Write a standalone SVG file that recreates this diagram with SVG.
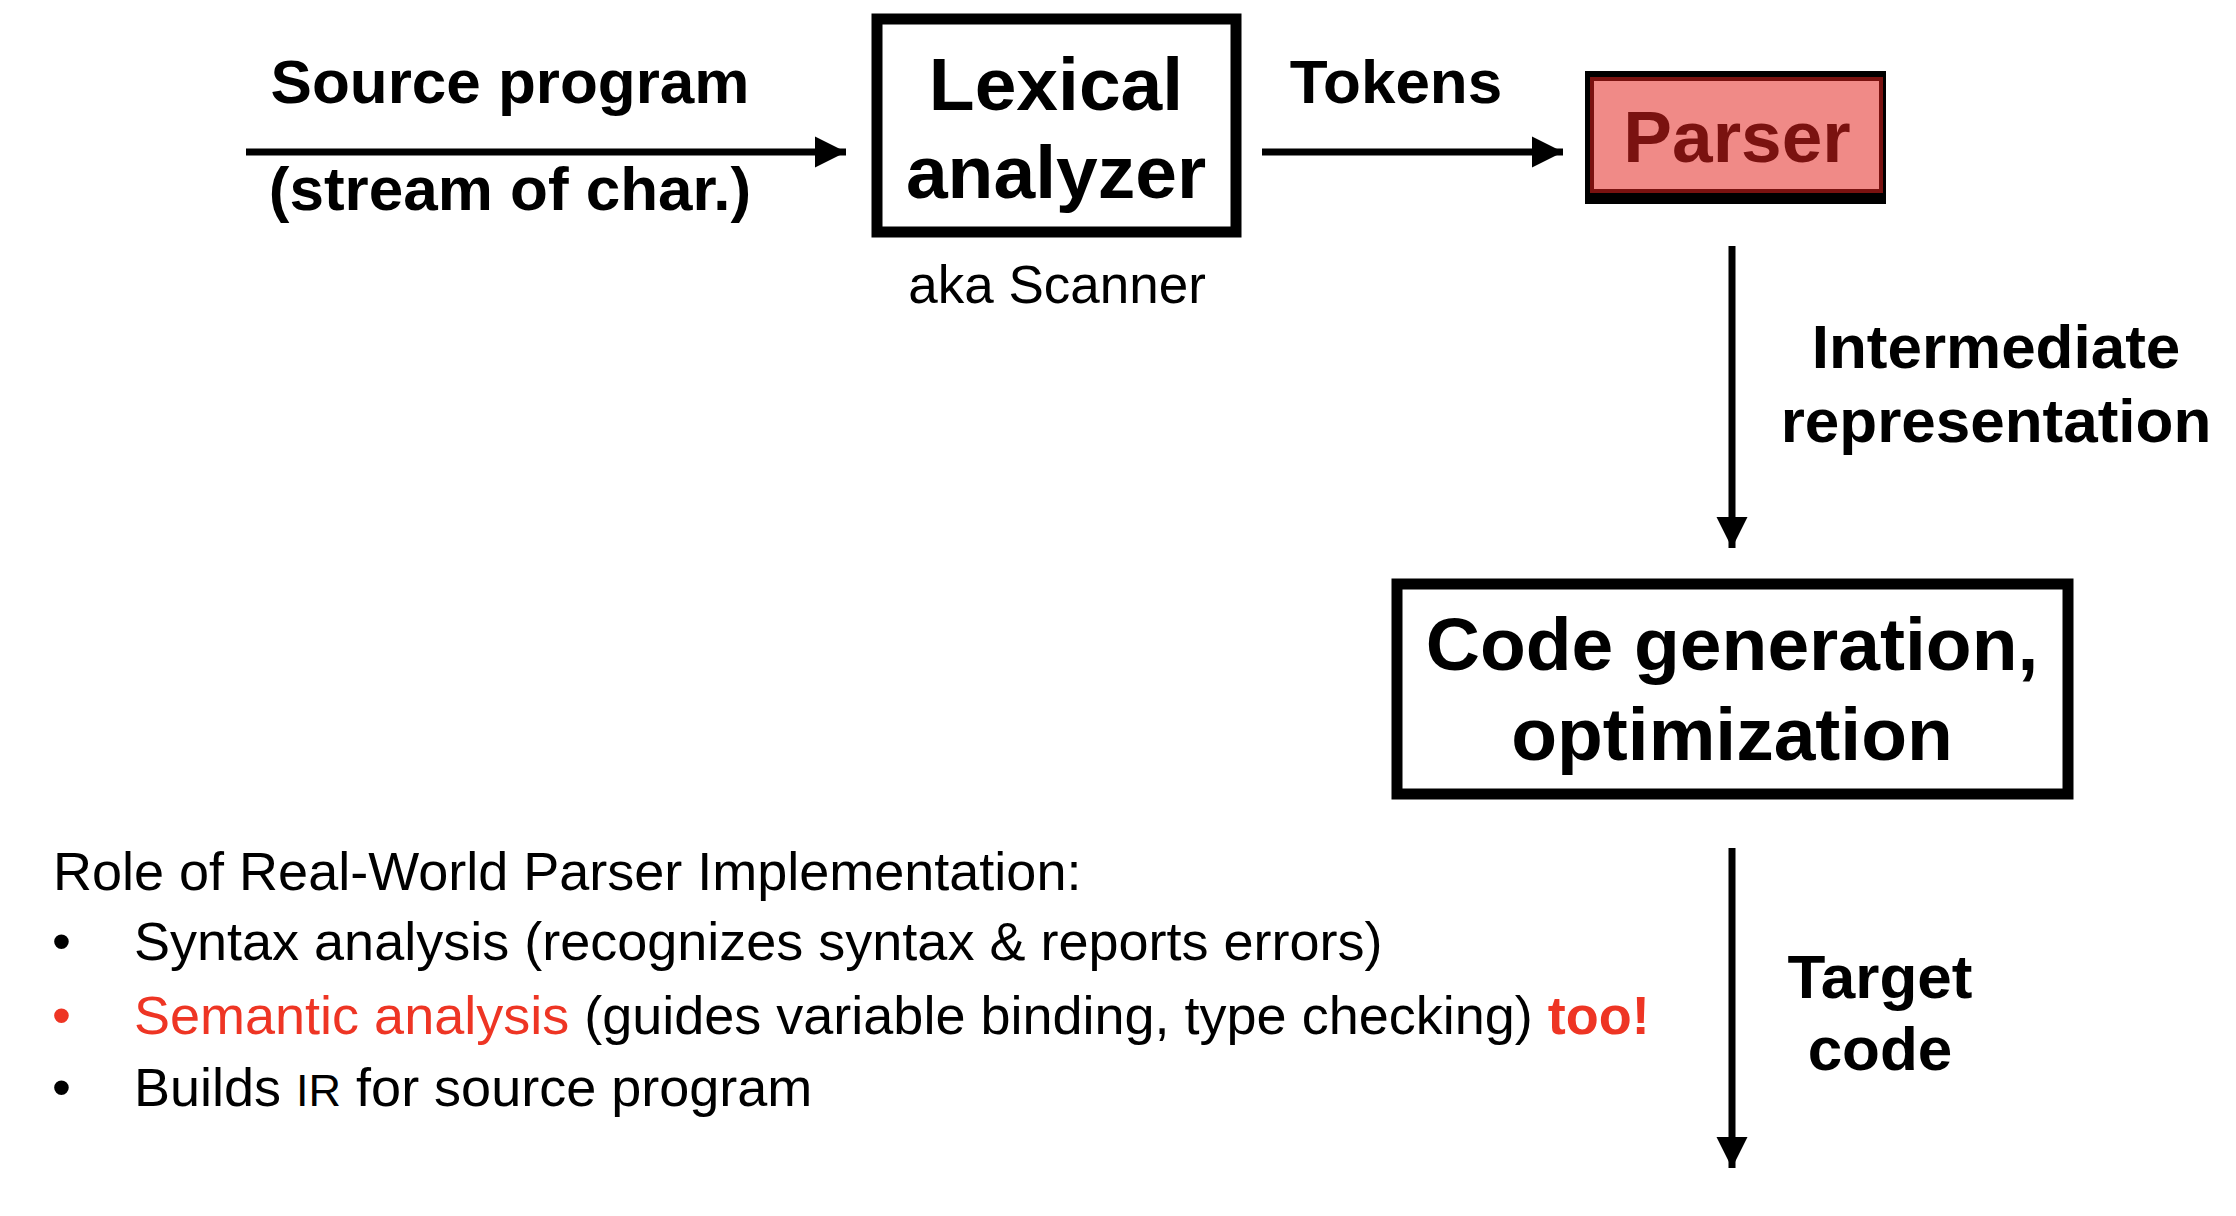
<svg xmlns="http://www.w3.org/2000/svg" width="2236" height="1216" viewBox="0 0 2236 1216">
<style>
.b{font-family:"Liberation Sans",Arial,sans-serif;font-weight:bold;fill:#000}
.r{font-family:"Liberation Sans",Arial,sans-serif;fill:#000}
.lbl{font-size:62px}
.node{font-size:75px}
.box{fill:#fff;stroke:#000;stroke-width:11}
.conn{stroke:#000;stroke-width:7;fill:none}
.red{fill:#EE3524}
.list{font-size:54px}
</style>
<defs>
<marker id="ah" viewBox="0 0 10 10" refX="10" refY="5" markerWidth="4.5" markerHeight="4.5" markerUnits="strokeWidth" orient="auto">
<path d="M0,0 L10,5 L0,10 z" fill="#000"/>
</marker>
</defs>
<rect width="2236" height="1216" fill="#fff"/>
<g id="connectors">
<line class="conn" x1="246" y1="152" x2="846" y2="152" marker-end="url(#ah)"/>
<line class="conn" x1="1262" y1="152" x2="1563" y2="152" marker-end="url(#ah)"/>
<line class="conn" x1="1732" y1="246" x2="1732" y2="548" marker-end="url(#ah)"/>
<line class="conn" x1="1732" y1="848" x2="1732" y2="1168" marker-end="url(#ah)"/>
<text class="b lbl" x="510" y="103" text-anchor="middle">Source program</text>
<text class="b lbl" x="510" y="210" text-anchor="middle">(stream of char.)</text>
<text class="b lbl" x="1396" y="103" text-anchor="middle">Tokens</text>
<text class="b lbl" x="1996" y="368" text-anchor="middle">Intermediate</text>
<text class="b lbl" x="1996" y="442" text-anchor="middle">representation</text>
<text class="b lbl" x="1880" y="998" text-anchor="middle">Target</text>
<text class="b lbl" x="1880" y="1070" text-anchor="middle">code</text>
</g>
<g id="lexer">
<rect class="box" x="877" y="19" width="359" height="213"/>
<text class="b node" x="1056" y="110" text-anchor="middle">Lexical</text>
<text class="b node" x="1056" y="198" text-anchor="middle">analyzer</text>
<text class="r" font-size="53" x="1057" y="303" text-anchor="middle">aka Scanner</text>
</g>
<g id="parser">
<rect x="1585" y="71" width="301" height="133" fill="#000"/>
<rect x="1592" y="79" width="289" height="112" fill="#F08A87" stroke="#7A1210" stroke-width="4"/>
<text class="b" font-size="73" style="fill:#7A1210" x="1737" y="162" text-anchor="middle">Parser</text>
</g>
<g id="codegen">
<rect class="box" x="1397" y="584" width="671" height="210"/>
<text class="b node" x="1732" y="670" text-anchor="middle">Code generation,</text>
<text class="b node" x="1732" y="760" text-anchor="middle">optimization</text>
</g>
<g id="notes">
<text class="r list" x="53" y="890">Role of Real-World Parser Implementation:</text>
<text class="r list" x="52" y="960">•</text>
<text class="r list" x="134" y="960">Syntax analysis (recognizes syntax &amp; reports errors)</text>
<text class="r list red" x="52" y="1034">•</text>
<text class="r list" x="134" y="1034"><tspan class="red">Semantic analysis</tspan> (guides variable binding, type checking) <tspan class="red" font-weight="bold">too!</tspan></text>
<text class="r list" x="52" y="1106">•</text>
<text class="r list" x="134" y="1106">Builds <tspan font-size="45">IR</tspan> for source program</text>
</g>
</svg>
